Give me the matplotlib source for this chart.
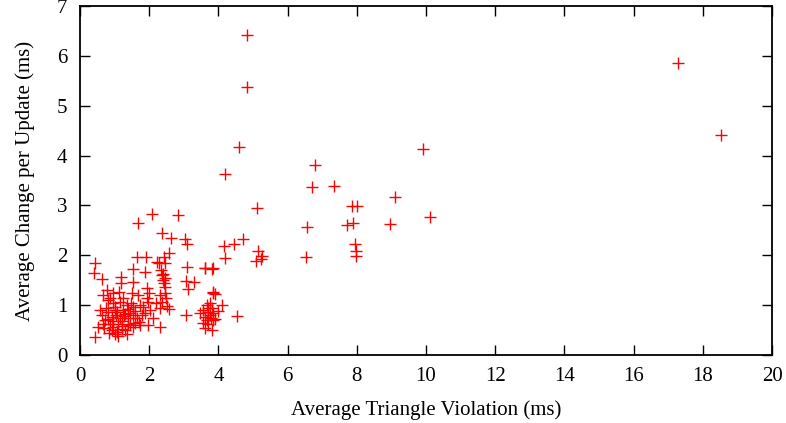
import matplotlib
matplotlib.use('Agg')
import matplotlib.pyplot as plt

# points (Average Triangle Violation, Average Change per Update)
outlier_x = [4.82, 4.82, 4.60, 4.19, 6.78, 6.71, 7.33, 7.85, 8.00, 7.88, 7.71, 6.57,
             7.96, 7.99, 7.99, 6.54, 9.10, 8.96, 10.12, 9.92, 17.29, 18.53, 5.11, 4.17,
             4.46, 4.71, 5.15, 5.25, 5.08, 5.23, 4.20, 3.60, 3.83]
outlier_y = [6.42, 5.38, 4.18, 3.64, 3.81, 3.36, 3.38, 2.99, 2.99, 2.64, 2.61, 2.56,
             2.23, 2.09, 1.99, 1.97, 3.16, 2.62, 2.76, 4.13, 5.86, 4.41, 2.94, 2.19,
             2.22, 2.33, 2.09, 1.99, 1.88, 1.93, 1.95, 1.75, 1.75]

mid_x = [2.07, 2.84, 1.69, 2.38, 2.64, 3.04, 3.10, 2.57, 3.08, 3.61, 3.82, 2.22, 2.46,
         2.33, 2.41, 2.46, 3.05, 3.29, 3.13, 3.85, 3.90, 3.85, 3.76, 4.09, 3.66, 3.81,
         3.56, 3.71, 3.85, 4.00, 3.47, 3.61, 3.78, 3.90, 3.56, 3.71, 3.61, 3.81, 3.85,
         4.53, 3.06, 3.70, 3.75, 3.68]
mid_y = [2.83, 2.80, 2.65, 2.44, 2.35, 2.33, 2.23, 2.04, 1.77, 1.74, 1.72, 1.87, 1.84,
         1.70, 1.62, 1.54, 1.48, 1.46, 1.32, 1.27, 1.22, 1.24, 1.04, 1.00, 1.00, 0.94,
         0.90, 0.87, 0.85, 0.89, 0.84, 0.77, 0.75, 0.72, 0.65, 0.63, 0.55, 0.51, 0.70,
         0.79, 0.80, 0.95, 0.80, 0.70]

cluster_x = [0.42, 0.40, 0.63, 1.66, 1.92, 2.43, 1.52, 1.88, 2.28, 1.18, 1.54, 1.19,
             2.41, 2.46, 0.77, 0.96, 1.13, 1.49, 1.69, 1.93, 1.93, 1.97, 1.83, 2.31,
             2.36, 2.31, 2.58, 0.58, 0.82, 1.01, 1.25, 1.45, 0.92, 1.16, 1.40, 1.64,
             0.72, 0.53, 0.96, 1.21, 1.45, 1.73, 0.43, 1.01, 1.35, 1.97, 2.02, 2.31,
             1.88, 1.73, 0.67, 0.82, 1.06, 0.63, 0.87, 1.11, 1.54, 1.30, 0.92, 1.54,
             1.35, 1.16, 0.96, 0.75, 0.88, 1.05, 1.22, 1.30, 1.60, 1.70, 0.85, 1.10,
             0.70, 1.48, 1.58, 1.25, 0.95, 2.45, 2.48, 2.43, 2.38, 2.50, 2.20, 2.10,
             1.80, 1.40, 2.00, 0.80, 1.00, 1.20, 1.38, 0.65, 1.08, 1.28, 1.52]
cluster_y = [1.85, 1.64, 1.52, 1.96, 1.96, 1.96, 1.72, 1.67, 1.84, 1.57, 1.47, 1.44,
             1.50, 1.37, 1.30, 1.24, 1.27, 1.24, 1.20, 1.34, 1.14, 1.07, 0.97, 1.20,
             1.07, 0.94, 0.92, 0.90, 1.10, 0.97, 0.90, 0.84, 0.77, 0.74, 0.74, 0.74,
             0.70, 0.57, 0.57, 0.53, 0.60, 0.60, 0.37, 0.43, 0.43, 0.60, 0.90, 0.57,
             0.84, 1.00, 1.20, 0.87, 0.87, 0.80, 0.63, 0.63, 0.57, 0.50, 0.50, 0.97,
             1.00, 1.07, 1.04, 0.95, 1.15, 0.80, 0.68, 0.82, 0.88, 0.66, 0.45, 0.38,
             0.55, 1.05, 0.65, 1.15, 0.68, 1.25, 1.15, 1.45, 1.60, 0.98, 1.05, 0.75,
             0.80, 0.62, 1.25, 0.72, 0.90, 0.58, 0.93, 0.62, 0.47, 0.78, 0.80]

xs = outlier_x + mid_x + cluster_x
ys = outlier_y + mid_y + cluster_y

plt.rcParams['font.family'] = ['Liberation Serif', 'DejaVu Serif']
plt.rcParams['font.size'] = 15

fig = plt.figure(figsize=(7.86, 4.23), dpi=100)
ax = fig.add_axes([0.1018, 0.1608, 0.8804, 0.825])

ax.plot(xs, ys, linestyle='none', marker='+', color='red', markersize=8.5, markeredgewidth=1.0)

ax.set_xlim(0, 20)
ax.set_ylim(0, 7)
ax.set_xticks(range(0, 21, 2))
ax.set_yticks(range(0, 8))
ax.tick_params(direction='in', length=7, width=1, top=True, right=True, pad=9)
for s in ax.spines.values():
    s.set_linewidth(1.3)

ax.set_xlabel('Average Triangle Violation (ms)', labelpad=10)
ax.set_ylabel('Average Change per Update (ms)', labelpad=16)

fig.savefig('out.png', dpi=100)
